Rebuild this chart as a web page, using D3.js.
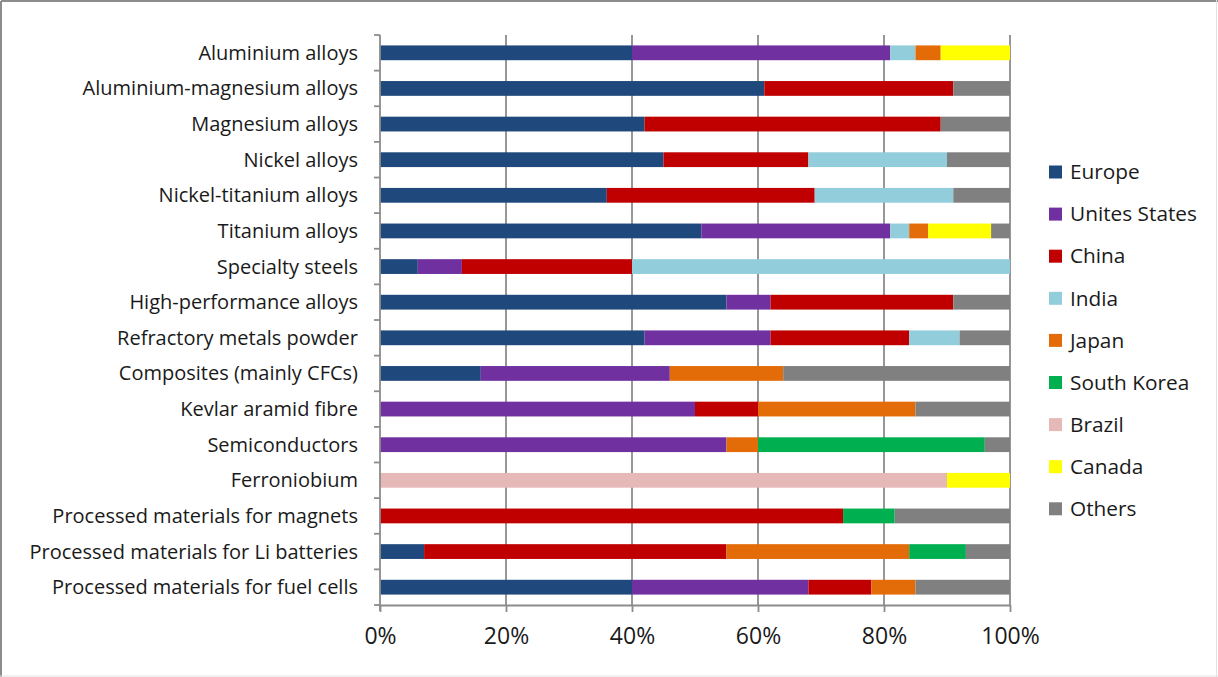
<!DOCTYPE html>
<html>
<head>
<meta charset="utf-8">
<script src="https://cdn.jsdelivr.net/npm/d3@7"></script>
<style>
  html, body { margin: 0; padding: 0; background: #fff; }
  svg { display: block; }
  text { font-family: "Open Sans", Lato, sans-serif; fill: #1a1a1a; }
</style>
</head>
<body>
<svg id="chart" width="1218" height="677"></svg>
<script>
// Share of production by region (%), one entry per material
const categories = [
  "Aluminium alloys",
  "Aluminium-magnesium alloys",
  "Magnesium alloys",
  "Nickel alloys",
  "Nickel-titanium alloys",
  "Titanium alloys",
  "Specialty steels",
  "High-performance alloys",
  "Refractory metals powder ",
  "Composites (mainly CFCs)",
  "Kevlar aramid fibre",
  "Semiconductors",
  "Ferroniobium",
  "Processed materials for magnets",
  "Processed materials for Li batteries",
  "Processed materials for fuel cells"
];

const seriesNames = ["Europe", "Unites States", "China", "India", "Japan", "South Korea", "Brazil", "Canada", "Others"];

const europe      = [40, 61, 42, 45, 36, 51,  6, 55, 42, 16,  0,  0,  0,  0,    7, 40];
const unitedStates= [41,  0,  0,  0,  0, 30,  7,  7, 20, 30, 50, 55,  0,  0,    0, 28];
const china       = [ 0, 30, 47, 23, 33,  0, 27, 29, 22,  0, 10,  0,  0, 73.5, 48, 10];
const india       = [ 4,  0,  0, 22, 22,  3, 60,  0,  8,  0,  0,  0,  0,  0,    0,  0];
const japan       = [ 4,  0,  0,  0,  0,  3,  0,  0,  0, 18, 25,  5,  0,  0,   29,  7];
const southKorea  = [ 0,  0,  0,  0,  0,  0,  0,  0,  0,  0,  0, 36,  0,  8.2,  9,  0];
const brazil      = [ 0,  0,  0,  0,  0,  0,  0,  0,  0,  0,  0,  0, 90,  0,    0,  0];
const canada      = [11,  0,  0,  0,  0, 10,  0,  0,  0,  0,  0,  0, 10,  0,    0,  0];
const others      = [ 0,  9, 11, 10,  9,  3,  0,  9,  8, 36, 15,  4,  0, 18.3,  7, 15];

const seriesColors = ["#1F497D", "#7030A0", "#C00000", "#92CDDC", "#E36C09", "#00B050", "#E6B9B8", "#FFFF00", "#808080"];

const xTicks = [0, 0.2, 0.4, 0.6, 0.8, 1.0];

const seriesValues = [europe, unitedStates, china, india, japan, southKorea, brazil, canada, others];
const rows = categories.map((c, i) => {
  const r = { category: c };
  seriesNames.forEach((s, k) => { r[s] = seriesValues[k][i]; });
  return r;
});

const svg = d3.select("#chart");
const W = 1218, H = 677;
const margin = { top: 35, left: 380, right: 208, bottom: 72 };
const plotW = W - margin.left - margin.right;   // 630
const plotH = H - margin.top - margin.bottom;   // 570

// Frame of the chart area
svg.append("line").attr("x1", 1).attr("x2", 1).attr("y1", 1).attr("y2", H).attr("stroke", "#8c8c8c").attr("stroke-width", 2);
svg.append("line").attr("x1", 1).attr("x2", W).attr("y1", 1).attr("y2", 1).attr("stroke", "#8c8c8c").attr("stroke-width", 2);
svg.append("line").attr("x1", W - 1.5).attr("x2", W - 1.5).attr("y1", 0).attr("y2", H).attr("stroke", "#e2e2e2").attr("stroke-width", 1);
svg.append("line").attr("x1", 0).attr("x2", W).attr("y1", H - 1).attr("y2", H - 1).attr("stroke", "#e2e2e2").attr("stroke-width", 1);

const g = svg.append("g").attr("transform", `translate(${margin.left},${margin.top})`);

const x = d3.scaleLinear().domain([0, 1]).range([0, plotW]);
const y = d3.scaleBand().domain(categories).range([0, plotH]).paddingInner(0.585).paddingOuter(0.2925);

// Normalise each row to 100 %
const stack = d3.stack().keys(seriesNames).offset(d3.stackOffsetExpand);
const stacked = stack(rows);

// Vertical gridlines
g.append("g")
  .selectAll("line")
  .data(xTicks.filter(t => t > 0))
  .join("line")
  .attr("x1", d => x(d)).attr("x2", d => x(d))
  .attr("y1", 0).attr("y2", plotH)
  .attr("stroke", "#8c8c8c").attr("stroke-width", 1.8);

// Stacked bars
g.append("g")
  .selectAll("g")
  .data(stacked)
  .join("g")
  .attr("fill", (d, i) => seriesColors[i])
  .selectAll("rect")
  .data(d => d)
  .join("rect")
  .attr("x", d => x(d[0]))
  .attr("width", d => Math.max(0, x(d[1]) - x(d[0])))
  .attr("y", d => y(d.data.category))
  .attr("height", y.bandwidth());

// Category axis: line with tick marks between categories
const step = y.step();
g.append("line").attr("x1", 0).attr("x2", 0).attr("y1", 0).attr("y2", plotH + 6)
  .attr("stroke", "#8c8c8c").attr("stroke-width", 1.8);
g.append("g")
  .selectAll("line")
  .data(d3.range(categories.length + 1))
  .join("line")
  .attr("x1", -6).attr("x2", 0)
  .attr("y1", i => i * step).attr("y2", i => i * step)
  .attr("stroke", "#8c8c8c").attr("stroke-width", 1.8);

g.append("g")
  .selectAll("text")
  .data(categories)
  .join("text")
  .attr("x", -22)
  .attr("y", d => y(d) + y.bandwidth() / 2)
  .attr("dy", "0.35em")
  .attr("text-anchor", "end")
  .style("font-size", "20px")
  .text(d => d);

// Value axis at the bottom
const xAxis = d3.axisBottom(x).tickValues(xTicks).tickFormat(d3.format(".0%")).tickSize(7).tickSizeOuter(0);
const xa = g.append("g").attr("transform", `translate(0,${plotH})`).call(xAxis);
xa.select(".domain").attr("stroke", "#8c8c8c").attr("stroke-width", 1.8);
xa.selectAll(".tick line").attr("stroke", "#8c8c8c").attr("stroke-width", 1.8);
xa.selectAll(".tick text")
  .attr("y", 31)
  .attr("dy", "0.35em")
  .style("font-size", "23px")
  .style("font-family", "'Open Sans', Lato, sans-serif")
  .attr("fill", "#1a1a1a");

// Legend
const legend = svg.append("g").attr("transform", "translate(1049,172)");
const legendItem = legend.selectAll("g")
  .data(seriesNames)
  .join("g")
  .attr("transform", (d, i) => `translate(0,${i * 42.1})`);
legendItem.append("rect")
  .attr("x", 0).attr("y", -6.5).attr("width", 13).attr("height", 13)
  .attr("fill", (d, i) => seriesColors[i]);
legendItem.append("text")
  .attr("x", 21).attr("y", 0).attr("dy", "0.35em")
  .style("font-size", "20.8px")
  .text(d => d);
</script>
</body>
</html>
